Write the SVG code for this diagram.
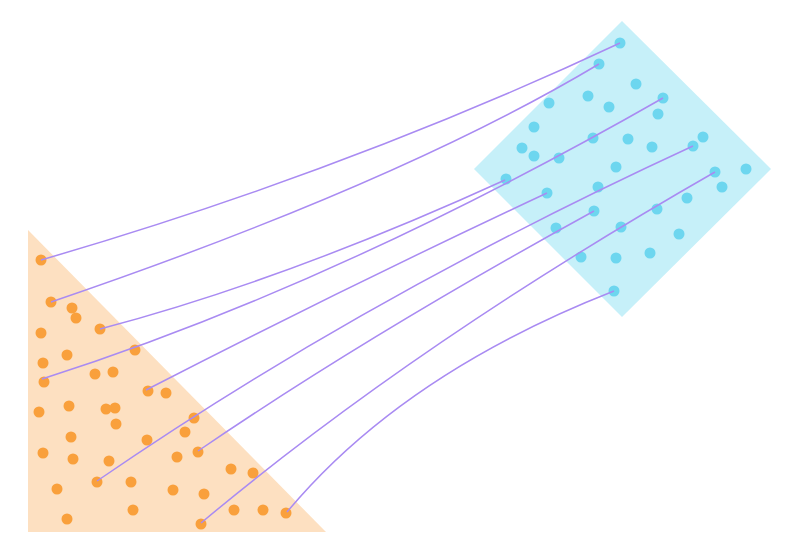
<svg xmlns="http://www.w3.org/2000/svg" width="800" height="560" viewBox="0 0 800 560">
<style>
.tri{fill:#fde0c1}
.dia{fill:#c6f0f9}
.od{fill:#f9a03c}
.bd{fill:#6dd6ef}
.ln{fill:none;stroke:#a98bf2;stroke-width:1.5}
</style>
<rect width="800" height="560" fill="#ffffff"/>
<g id="source-region"><polygon class="tri" points="28,230 28,532 326,532"/></g>
<g id="target-region"><polygon class="dia" points="622,21 771,169 622,317 474,169"/></g>
<g id="source-points">
<circle class="od" cx="41" cy="260" r="5.5"/>
<circle class="od" cx="51" cy="302" r="5.5"/>
<circle class="od" cx="72" cy="308" r="5.5"/>
<circle class="od" cx="76" cy="318" r="5.5"/>
<circle class="od" cx="100" cy="329" r="5.5"/>
<circle class="od" cx="41" cy="333" r="5.5"/>
<circle class="od" cx="67" cy="355" r="5.5"/>
<circle class="od" cx="135" cy="350" r="5.5"/>
<circle class="od" cx="43" cy="363" r="5.5"/>
<circle class="od" cx="95" cy="374" r="5.5"/>
<circle class="od" cx="113" cy="372" r="5.5"/>
<circle class="od" cx="44" cy="382" r="5.5"/>
<circle class="od" cx="148" cy="391" r="5.5"/>
<circle class="od" cx="166" cy="393" r="5.5"/>
<circle class="od" cx="39" cy="412" r="5.5"/>
<circle class="od" cx="69" cy="406" r="5.5"/>
<circle class="od" cx="106" cy="409" r="5.5"/>
<circle class="od" cx="115" cy="408" r="5.5"/>
<circle class="od" cx="116" cy="424" r="5.5"/>
<circle class="od" cx="71" cy="437" r="5.5"/>
<circle class="od" cx="147" cy="440" r="5.5"/>
<circle class="od" cx="43" cy="453" r="5.5"/>
<circle class="od" cx="73" cy="459" r="5.5"/>
<circle class="od" cx="109" cy="461" r="5.5"/>
<circle class="od" cx="177" cy="457" r="5.5"/>
<circle class="od" cx="97" cy="482" r="5.5"/>
<circle class="od" cx="131" cy="482" r="5.5"/>
<circle class="od" cx="57" cy="489" r="5.5"/>
<circle class="od" cx="173" cy="490" r="5.5"/>
<circle class="od" cx="133" cy="510" r="5.5"/>
<circle class="od" cx="67" cy="519" r="5.5"/>
<circle class="od" cx="194" cy="418" r="5.5"/>
<circle class="od" cx="185" cy="432" r="5.5"/>
<circle class="od" cx="198" cy="452" r="5.5"/>
<circle class="od" cx="231" cy="469" r="5.5"/>
<circle class="od" cx="253" cy="473" r="5.5"/>
<circle class="od" cx="204" cy="494" r="5.5"/>
<circle class="od" cx="234" cy="510" r="5.5"/>
<circle class="od" cx="263" cy="510" r="5.5"/>
<circle class="od" cx="286" cy="513" r="5.5"/>
<circle class="od" cx="201" cy="524" r="5.5"/>
</g>
<g id="target-points">
<circle class="bd" cx="620" cy="43" r="5.5"/>
<circle class="bd" cx="599" cy="64" r="5.5"/>
<circle class="bd" cx="636" cy="84" r="5.5"/>
<circle class="bd" cx="588" cy="96" r="5.5"/>
<circle class="bd" cx="609" cy="107" r="5.5"/>
<circle class="bd" cx="549" cy="103" r="5.5"/>
<circle class="bd" cx="663" cy="98" r="5.5"/>
<circle class="bd" cx="658" cy="114" r="5.5"/>
<circle class="bd" cx="534" cy="127" r="5.5"/>
<circle class="bd" cx="522" cy="148" r="5.5"/>
<circle class="bd" cx="534" cy="156" r="5.5"/>
<circle class="bd" cx="559" cy="158" r="5.5"/>
<circle class="bd" cx="593" cy="138" r="5.5"/>
<circle class="bd" cx="628" cy="139" r="5.5"/>
<circle class="bd" cx="652" cy="147" r="5.5"/>
<circle class="bd" cx="703" cy="137" r="5.5"/>
<circle class="bd" cx="693" cy="146" r="5.5"/>
<circle class="bd" cx="616" cy="167" r="5.5"/>
<circle class="bd" cx="746" cy="169" r="5.5"/>
<circle class="bd" cx="715" cy="172" r="5.5"/>
<circle class="bd" cx="722" cy="187" r="5.5"/>
<circle class="bd" cx="687" cy="198" r="5.5"/>
<circle class="bd" cx="598" cy="187" r="5.5"/>
<circle class="bd" cx="657" cy="209" r="5.5"/>
<circle class="bd" cx="506" cy="179" r="5.5"/>
<circle class="bd" cx="547" cy="193" r="5.5"/>
<circle class="bd" cx="594" cy="211" r="5.5"/>
<circle class="bd" cx="556" cy="228" r="5.5"/>
<circle class="bd" cx="621" cy="227" r="5.5"/>
<circle class="bd" cx="679" cy="234" r="5.5"/>
<circle class="bd" cx="581" cy="257" r="5.5"/>
<circle class="bd" cx="616" cy="258" r="5.5"/>
<circle class="bd" cx="650" cy="253" r="5.5"/>
<circle class="bd" cx="614" cy="291" r="5.5"/>
</g>
<g id="connectors">
<path class="ln" d="M41,260 Q347,171 620,43"/>
<path class="ln" d="M51,302 Q400,183 599,64"/>
<path class="ln" d="M100,329 Q286,280 505,180"/>
<path class="ln" d="M42,379 Q334,286 663,98"/>
<path class="ln" d="M146,390 Q344,288 547,193"/>
<path class="ln" d="M97,481 Q361,299 693,146"/>
<path class="ln" d="M198,451 Q368,335 594,211"/>
<path class="ln" d="M201,523 Q416,343 715,172"/>
<path class="ln" d="M287,512 Q402,374 614,291"/>
</g>
</svg>
